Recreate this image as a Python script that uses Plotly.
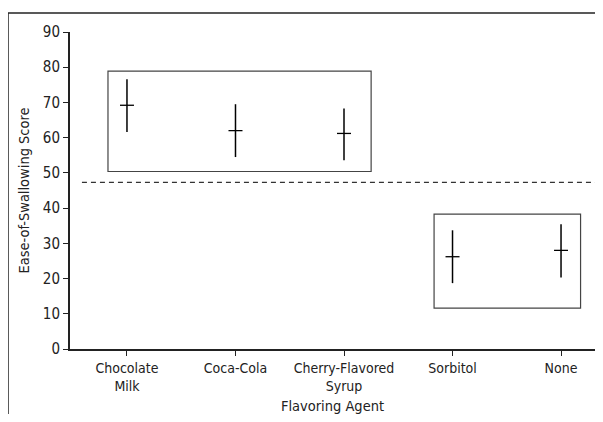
import plotly.graph_objects as go

categories = ["Chocolate<br>Milk", "Coca-Cola", "Cherry-Flavored<br>Syrup", "Sorbitol", "None"]
means = [69.2, 62.0, 61.2, 26.2, 28.0]
upper = [76.6, 69.5, 68.3, 33.7, 35.4]
lower = [61.6, 54.5, 53.6, 18.7, 20.3]
threshold = 47.3
y_ticks = [0, 10, 20, 30, 40, 50, 60, 70, 80, 90]

err_plus = [u - m for u, m in zip(upper, means)]
err_minus = [m - l for m, l in zip(means, lower)]
xidx = list(range(len(categories)))

FONT = "DejaVu Sans Condensed, Liberation Sans Narrow, Arial Narrow, sans-serif"

fig = go.Figure()
fig.add_trace(go.Scatter(
    x=xidx, y=means, mode="markers",
    marker=dict(symbol="line-ew", size=10, line=dict(width=1.3, color="black")),
    error_y=dict(type="data", symmetric=False, array=err_plus, arrayminus=err_minus,
                 width=0, thickness=1.5, color="black"),
    showlegend=False,
))

shapes = [
    # group boxes
    dict(type="rect", xref="x", yref="y", x0=-0.175, x1=2.25, y0=50.4, y1=78.9,
         line=dict(color="#444", width=1.2)),
    dict(type="rect", xref="x", yref="y", x0=2.83, x1=4.18, y0=11.6, y1=38.3,
         line=dict(color="#444", width=1.2)),
    # threshold
    dict(type="line", xref="x", yref="y", x0=-0.415, x1=4.4, y0=threshold, y1=threshold,
         line=dict(color="#333", width=1.3, dash="5px,4px")),
    # outer frame
    dict(type="line", xref="paper", yref="paper", x0=-0.1181, x1=-0.1181, y0=-0.22, y1=1.06,
         line=dict(color="#222", width=1.5)),
    dict(type="line", xref="paper", yref="paper", x0=-0.1181, x1=1.02, y0=1.06, y1=1.06,
         line=dict(color="#222", width=1.5)),
]

fig.update_layout(
    width=587, height=406,
    margin=dict(l=62, r=0, t=24, b=65),
    plot_bgcolor="white", paper_bgcolor="white",
    font=dict(family=FONT, size=14, color="#222"),
    shapes=shapes,
    xaxis=dict(
        range=[-0.525, 4.313], tickvals=xidx, ticktext=categories,
        showline=True, linecolor="#222", linewidth=2,
        ticks="outside", ticklen=5, tickcolor="#222", tickwidth=1.2,
        showgrid=False, zeroline=False, automargin=False,
        title=dict(text="Flavoring Agent", standoff=8, font=dict(size=14.5)),
        tickfont=dict(size=14),
    ),
    yaxis=dict(
        range=[0, 90], tickvals=y_ticks,
        showline=True, linecolor="#222", linewidth=2,
        ticks="outside", ticklen=5, tickcolor="#222", tickwidth=1.2,
        showgrid=False, zeroline=False, automargin=False,
        title=dict(text="Ease-of-Swallowing Score", standoff=10, font=dict(size=14.5)),
        tickfont=dict(size=15),
    ),
)

fig.write_html("out.html")
